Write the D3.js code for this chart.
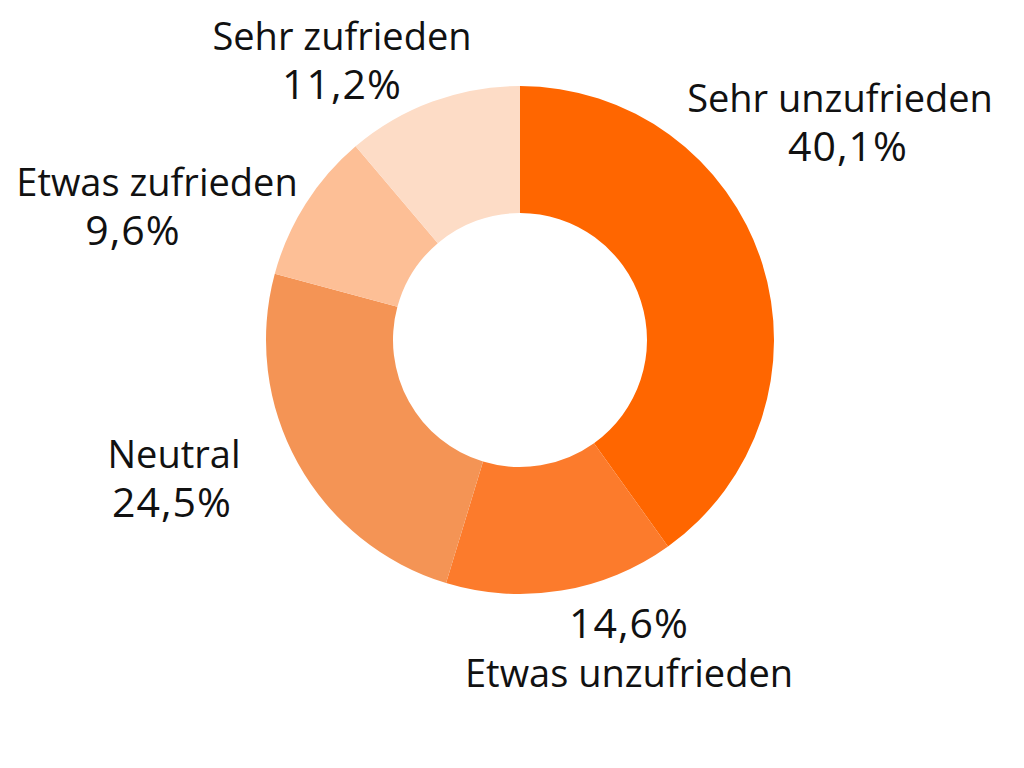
<!DOCTYPE html>
<html>
<head>
<meta charset="utf-8">
<script src="https://d3js.org/d3.v7.min.js"></script>
<style>
  body { margin: 0; background: #fff; }
  text { font-family: "Open Sans", "Noto Sans", sans-serif; fill: #111; }
</style>
</head>
<body>
<div id="viz"></div>
<script>
// answers, clockwise from 12 o'clock
var categories = ["Sehr unzufrieden", "Etwas unzufrieden", "Neutral", "Etwas zufrieden", "Sehr zufrieden"];
var values = [40.1, 14.6, 24.5, 9.6, 11.2];
var colors = ["#ff6600", "#fc7b2c", "#f49455", "#fdbf96", "#fddcc6"];

// label placement, relative to the centre of the ring
// (first line baseline, extra x shift of the percent line, percent on top?)
var labelPos = [
  {dx: 320, dy: -228, pdx: 8, pctFirst: false},
  {dx: 109, dy: 298, pdx: 0, pctFirst: true},
  {dx: -346, dy: 128, pdx: -2, pctFirst: false},
  {dx: -363, dy: -144, pdx: -24, pctFirst: false},
  {dx: -178, dy: -290, pdx: 0, pctFirst: false}
];

var width = 1024, height = 768;
var cx = 520, cy = 340, outer = 254, inner = 127;

var svg = d3.select("#viz").append("svg")
  .attr("width", width).attr("height", height);

var g = svg.append("g").attr("transform", "translate(" + cx + "," + cy + ")");

var pie = d3.pie().sort(null).value(function(d) { return d; });
var arc = d3.arc().innerRadius(inner).outerRadius(outer);

g.selectAll("path")
  .data(pie(values))
  .enter().append("path")
  .attr("d", arc)
  .attr("fill", function(d, i) { return colors[i]; });

function fmt(v) { return v.toFixed(1).replace(".", ",") + "%"; }

// one text per slice, two lines as tspans
var labels = g.selectAll("text.lbl")
  .data(categories)
  .enter().append("text")
  .attr("class", "lbl")
  .attr("text-anchor", "middle")
  .attr("transform", function(d, i) { return "translate(" + labelPos[i].dx + "," + labelPos[i].dy + ")"; });

labels.each(function(d, i) {
  var el = d3.select(this);
  var lp = labelPos[i];
  var lines = lp.pctFirst
    ? [{t: fmt(values[i]), p: true}, {t: d, p: false}]
    : [{t: d, p: false}, {t: fmt(values[i]), p: true}];
  lines.forEach(function(l, k) {
    el.append("tspan")
      .attr("x", l.p ? lp.pdx : 0)
      .attr("y", k * 49)
      .style("font-size", l.p ? "41px" : "38px")
      .style("letter-spacing", l.p ? "1px" : "0px")
      .text(l.t);
  });
});
</script>
</body>
</html>
